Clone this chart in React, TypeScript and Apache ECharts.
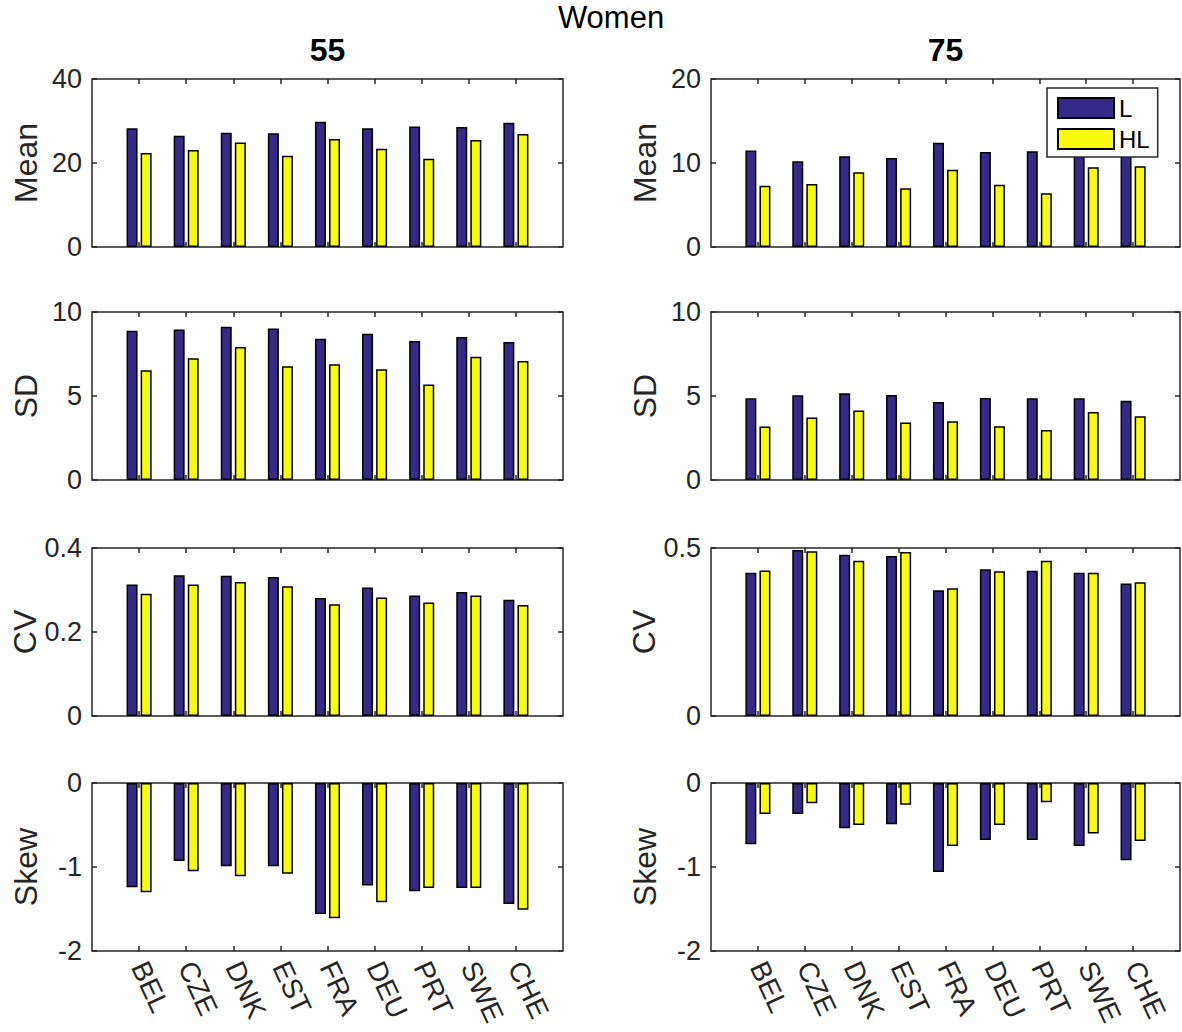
import React, { useEffect, useRef } from "react";
import * as echarts from "echarts";

const FONT = '"Liberation Sans", Arial, Helvetica, sans-serif';
const AX = "#262626";
const BLUE = "#352A87";
const YELLOW = "#F9FB0E";

const countries = ["BEL", "CZE", "DNK", "EST", "FRA", "DEU", "PRT", "SWE", "CHE"];
const seriesNames = ["L", "HL"];
const panelTitles = ["55", "75"];
const rowNames = ["Mean", "SD", "CV", "Skew"];

const mean55L = [28.3, 26.5, 27.2, 27.1, 29.8, 28.3, 28.7, 28.6, 29.6];
const mean55HL = [22.4, 23.1, 24.9, 21.7, 25.7, 23.4, 21.0, 25.5, 26.9];
const mean75L = [11.5, 10.2, 10.8, 10.6, 12.4, 11.3, 11.4, 12.1, 12.3];
const mean75HL = [7.3, 7.5, 8.9, 7.0, 9.2, 7.4, 6.4, 9.5, 9.6];
const sd55L = [8.88, 8.96, 9.12, 9.02, 8.41, 8.71, 8.27, 8.51, 8.21];
const sd55HL = [6.53, 7.25, 7.91, 6.77, 6.89, 6.59, 5.68, 7.33, 7.09];
const sd75L = [4.86, 5.04, 5.16, 5.06, 4.64, 4.88, 4.86, 4.86, 4.72];
const sd75HL = [3.18, 3.72, 4.13, 3.42, 3.5, 3.2, 2.98, 4.05, 3.79];
const cv55L = [0.313, 0.335, 0.334, 0.331, 0.281, 0.306, 0.287, 0.295, 0.277];
const cv55HL = [0.291, 0.313, 0.319, 0.309, 0.266, 0.282, 0.27, 0.287, 0.264];
const cv75L = [0.426, 0.494, 0.48, 0.476, 0.374, 0.437, 0.432, 0.426, 0.394];
const cv75HL = [0.433, 0.49, 0.462, 0.488, 0.38, 0.431, 0.462, 0.426, 0.398];
const skew55L = [-1.24, -0.93, -0.99, -0.99, -1.56, -1.22, -1.29, -1.25, -1.44];
const skew55HL = [-1.3, -1.05, -1.11, -1.08, -1.61, -1.42, -1.25, -1.25, -1.51];
const skew75L = [-0.73, -0.37, -0.54, -0.49, -1.06, -0.68, -0.68, -0.75, -0.92];
const skew75HL = [-0.37, -0.24, -0.5, -0.26, -0.75, -0.5, -0.23, -0.6, -0.69];

// y-axis ranges per row: [min, max, interval] for columns 55 and 75
const yRanges55 = [[0, 40, 20], [0, 10, 5], [0, 0.4, 0.2], [-2, 0, 1]];
const yRanges75 = [[0, 20, 10], [0, 10, 5], [0, 0.5, 0.5], [-2, 0, 1]];

const data55 = [[mean55L, mean55HL], [sd55L, sd55HL], [cv55L, cv55HL], [skew55L, skew55HL]];
const data75 = [[mean75L, mean75HL], [sd75L, sd75HL], [cv75L, cv75HL], [skew75L, skew75HL]];

const colLeft = [92, 711];
const colWidth = [471, 469];
const rowTop = [79, 312, 548, 783];
const rowHeight = 168;

const xCats = ["_s", ...countries, "_e"];

function buildOption() {
  const grid: any[] = [];
  const xAxis: any[] = [];
  const yAxis: any[] = [];
  const series: any[] = [];
  let g = 0;
  for (let r = 0; r < 4; r++) {
    for (let c = 0; c < 2; c++) {
      grid.push({
        left: colLeft[c],
        top: rowTop[r],
        width: colWidth[c],
        height: rowHeight,
        show: true,
        borderColor: AX,
        borderWidth: 1.5,
        backgroundColor: "#fff",
        containLabel: false,
      });
      const isBottom = r === 3;
      xAxis.push({
        type: "category",
        gridIndex: g,
        data: xCats,
        boundaryGap: false,
        position: "bottom",
        axisLine: { show: false, onZero: false },
        axisTick: {
          show: true,
          inside: true,
          length: 5,
          interval: (i: number) => i > 0 && i < xCats.length - 1,
          lineStyle: { color: AX, width: 1.5 },
        },
        axisLabel: {
          show: isBottom,
          interval: 0,
          rotate: -65,
          margin: 12,
          fontSize: 28,
          fontFamily: FONT,
          color: AX,
          formatter: (v: string) => (countries.includes(v) ? v : ""),
        },
        splitLine: { show: false },
      });
      xAxis.push({
        type: "category",
        gridIndex: g,
        data: xCats,
        boundaryGap: false,
        position: "top",
        axisLine: { show: false, onZero: false },
        axisTick: {
          show: true,
          inside: true,
          length: 5,
          interval: (i: number) => i > 0 && i < xCats.length - 1,
          lineStyle: { color: AX, width: 1.5 },
        },
        axisLabel: { show: false },
        splitLine: { show: false },
      });
      const rng = c === 0 ? yRanges55[r] : yRanges75[r];
      yAxis.push({
        type: "value",
        gridIndex: g,
        min: rng[0],
        max: rng[1],
        interval: rng[2],
        position: "left",
        name: rowNames[r],
        nameLocation: "middle",
        nameGap: 50,
        nameTextStyle: { fontSize: 32, fontFamily: FONT, color: AX },
        axisLine: { show: false, onZero: false },
        axisTick: { show: true, inside: true, length: 5, lineStyle: { color: AX, width: 1.5 } },
        axisLabel: { fontSize: 27, fontFamily: FONT, color: AX, margin: 10 },
        splitLine: { show: false },
      });
      yAxis.push({
        type: "value",
        gridIndex: g,
        min: rng[0],
        max: rng[1],
        interval: rng[2],
        position: "right",
        axisLine: { show: false, onZero: false },
        axisTick: { show: true, inside: true, length: 5, lineStyle: { color: AX, width: 1.5 } },
        axisLabel: { show: false },
        splitLine: { show: false },
      });
      const vals = c === 0 ? data55[r] : data75[r];
      for (let s = 0; s < 2; s++) {
        series.push({
          type: "bar",
          name: seriesNames[s],
          xAxisIndex: 2 * g,
          yAxisIndex: 2 * g,
          barWidth: 11,
          barGap: "28%",
          data: vals[s].map((v: number, i: number) => [countries[i], v]),
          itemStyle: {
            color: s === 0 ? BLUE : YELLOW,
            borderColor: "#000",
            borderWidth: 1.5,
          },
          emphasis: { disabled: true },
        });
      }
      g++;
    }
  }
  return {
    animation: false,
    backgroundColor: "#fff",
    grid,
    xAxis,
    yAxis,
    series,
    legend: {
      data: seriesNames,
      orient: "vertical",
      left: 1047,
      top: 88,
      itemWidth: 56,
      itemHeight: 20,
      itemGap: 7,
      padding: [8, 8, 6, 10],
      backgroundColor: "#fff",
      borderColor: AX,
      borderWidth: 1.5,
      icon: "rect",
      textStyle: { fontSize: 24, fontFamily: FONT, color: "#000" },
      selectedMode: false,
    },
    graphic: [
      {
        type: "text",
        x: 611,
        y: 17,
        style: { text: "Women", font: `31px ${FONT}`, fill: "#000", textAlign: "center", textVerticalAlign: "middle" },
      },
      {
        type: "text",
        x: colLeft[0] + colWidth[0] / 2,
        y: 50,
        style: { text: panelTitles[0], font: `bold 32px ${FONT}`, fill: "#000", textAlign: "center", textVerticalAlign: "middle" },
      },
      {
        type: "text",
        x: colLeft[1] + colWidth[1] / 2,
        y: 50,
        style: { text: panelTitles[1], font: `bold 32px ${FONT}`, fill: "#000", textAlign: "center", textVerticalAlign: "middle" },
      },
    ],
  };
}

export default function App() {
  const ref = useRef<HTMLDivElement>(null);
  useEffect(() => {
    if (!ref.current) return;
    const chart = echarts.init(ref.current, undefined, { renderer: "svg" });
    chart.setOption(buildOption() as any);
    return () => chart.dispose();
  }, []);
  return (
    <div
      ref={ref}
      style={{ position: "absolute", left: 0, top: 0, width: 1182, height: 1032, background: "#fff" }}
    />
  );
}
